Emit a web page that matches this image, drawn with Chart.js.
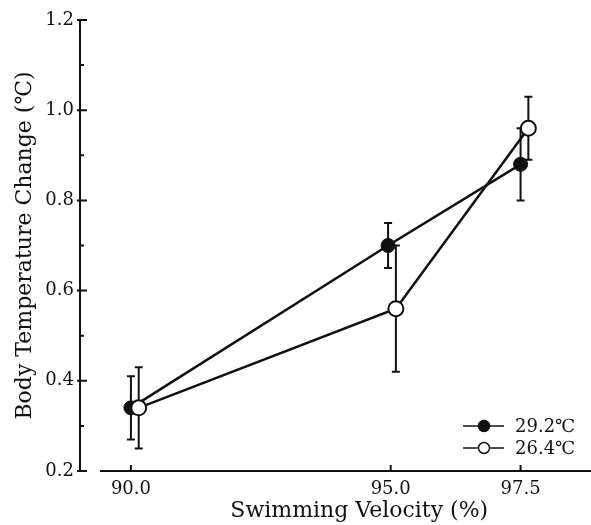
<!DOCTYPE html>
<html>
<head>
<meta charset="utf-8">
<script src="https://cdn.jsdelivr.net/npm/chart.js@4"></script>
<style>
  html, body { margin: 0; padding: 0; background: #fff; overflow: hidden; }
  /* canvas runs past the right edge, like the axis in the scan */
  canvas { display: block; }
</style>
</head>
<body>
<canvas id="chart" width="648" height="525"></canvas>
<script>
// tick labels on the velocity axis
const xTicks = [90.0, 95.0, 97.5];

// 29.2 C group (filled circles)
const warmX = [90.0, 94.95, 97.5];
const warmY = [0.34, 0.70, 0.88];
const warmErr = [0.07, 0.05, 0.08];

// 26.4 C group (open circles), drawn a little to the right
const coolX = [90.15, 95.1, 97.65];
const coolY = [0.34, 0.56, 0.96];
const coolErr = [0.09, 0.14, 0.07];

const seriesLabels = ['29.2℃', '26.4℃'];

const ink = '#111';
const serif = "'DejaVu Serif', 'Liberation Serif', serif";

const toPoints = (xs, ys) => xs.map((v, i) => ({ x: v, y: ys[i] }));

// vertical error bars with small caps, under the markers
const errorBars = {
  id: 'errorBars',
  beforeDatasetsDraw(chart) {
    const { ctx, scales: { x, y } } = chart;
    ctx.save();
    ctx.strokeStyle = ink;
    ctx.lineWidth = 2;
    chart.data.datasets.forEach(ds => {
      ds.data.forEach((p, i) => {
        const px = x.getPixelForValue(p.x);
        const top = y.getPixelForValue(p.y + ds.errors[i]);
        const bot = y.getPixelForValue(p.y - ds.errors[i]);
        ctx.beginPath();
        ctx.moveTo(px, top); ctx.lineTo(px, bot);
        ctx.moveTo(px - 4, top); ctx.lineTo(px + 4, top);
        ctx.moveTo(px - 4, bot); ctx.lineTo(px + 4, bot);
        ctx.stroke();
      });
    });
    ctx.restore();
  }
};

// inward tick marks + the detached x axis line
const axisMarks = {
  id: 'axisMarks',
  afterDraw(chart) {
    const { ctx, chartArea, scales: { x, y } } = chart;
    const left = chartArea.left, bottom = chartArea.bottom;
    ctx.save();
    ctx.strokeStyle = ink;
    ctx.lineWidth = 2;
    ctx.beginPath();
    ctx.moveTo(left + 20, bottom);
    ctx.lineTo(chartArea.right, bottom);
    x.ticks.forEach(t => {
      const px = x.getPixelForValue(t.value);
      ctx.moveTo(px, bottom);
      ctx.lineTo(px, bottom - 6);
    });
    y.ticks.forEach((t, i) => {
      const py = y.getPixelForValue(t.value);
      ctx.moveTo(left - 3, py);
      ctx.lineTo(left + 7, py);
      if (i > 0) {
        const pm = y.getPixelForValue((t.value + y.ticks[i - 1].value) / 2);
        ctx.moveTo(left, pm);
        ctx.lineTo(left + 4, pm);
      }
    });
    ctx.stroke();
    ctx.restore();
  }
};

// small legend in the lower right of the plot
const legendBox = {
  id: 'legendBox',
  afterDraw(chart) {
    const { ctx, chartArea } = chart;
    const x0 = chartArea.left + 383;
    const y0 = chartArea.bottom - 45;
    chart.data.datasets.forEach((ds, i) => {
      const y = y0 + i * 22;
      ctx.save();
      ctx.strokeStyle = ink;
      ctx.lineWidth = 1.5;
      ctx.beginPath();
      ctx.moveTo(x0, y);
      ctx.lineTo(x0 + 41, y);
      ctx.stroke();
      ctx.beginPath();
      ctx.arc(x0 + 21, y, 5.5, 0, Math.PI * 2);
      ctx.fillStyle = ds.pointBackgroundColor;
      ctx.fill();
      ctx.stroke();
      ctx.fillStyle = ink;
      ctx.font = '18px ' + serif;
      ctx.textBaseline = 'middle';
      ctx.fillText(ds.label, x0 + 52, y + 1);
      ctx.restore();
    });
  }
};

new Chart(document.getElementById('chart'), {
  type: 'line',
  data: {
    datasets: [
      {
        label: seriesLabels[0],
        data: toPoints(warmX, warmY),
        errors: warmErr,
        borderColor: ink,
        borderWidth: 2.5,
        pointRadius: 7,
        pointBackgroundColor: ink,
        pointBorderColor: ink,
        pointBorderWidth: 1,
        tension: 0,
        order: 2
      },
      {
        label: seriesLabels[1],
        data: toPoints(coolX, coolY),
        errors: coolErr,
        borderColor: ink,
        borderWidth: 2.5,
        pointRadius: 7.5,
        pointBackgroundColor: '#fff',
        pointBorderColor: ink,
        pointBorderWidth: 2,
        tension: 0,
        order: 1
      }
    ]
  },
  options: {
    responsive: false,
    animation: false,
    layout: { padding: { top: 20, right: 0, left: 0, bottom: 0 } },
    plugins: {
      legend: { display: false },
      tooltip: { enabled: false }
    },
    scales: {
      x: {
        type: 'linear',
        min: 89.02,
        max: 99.77,
        afterBuildTicks(scale) {
          scale.ticks = xTicks.map(v => ({ value: v }));
        },
        afterFit(scale) {
          scale.height = 54;
        },
        ticks: {
          padding: 8,
          autoSkip: false,
          maxRotation: 0,
          color: ink,
          font: { family: serif, size: 18 },
          callback: v => Number(v).toFixed(1)
        },
        grid: { display: false, drawTicks: false },
        border: { display: false },
        title: {
          display: true,
          text: 'Swimming Velocity (%)',
          color: ink,
          font: { family: serif, size: 22 },
          padding: { top: 0, bottom: 1 }
        }
      },
      y: {
        min: 0.2,
        max: 1.2,
        afterFit(scale) { scale.width = 80; },
        ticks: {
          stepSize: 0.2,
          padding: 6,
          color: ink,
          font: { family: serif, size: 18 },
          callback: v => Number(v).toFixed(1)
        },
        grid: { display: false, drawTicks: false },
        border: { display: true, color: ink, width: 2 },
        title: {
          display: true,
          text: 'Body Temperature Change (℃)',
          color: ink,
          font: { family: serif, size: 22 },
          padding: { top: 12, bottom: 0 }
        }
      }
    }
  },
  plugins: [errorBars, axisMarks, legendBox]
});
</script>
</body>
</html>
